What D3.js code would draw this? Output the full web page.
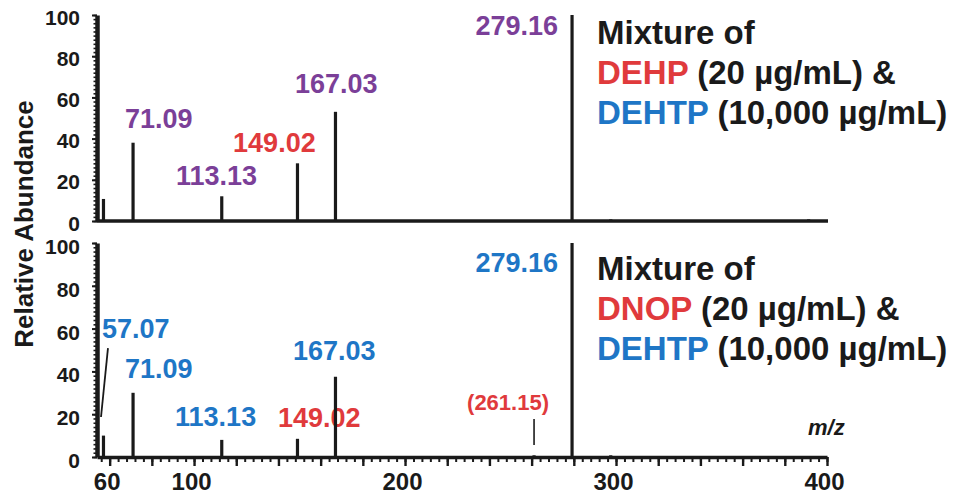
<!DOCTYPE html>
<html>
<head>
<meta charset="utf-8">
<script src="https://cdn.jsdelivr.net/npm/d3@7"></script>
<style>
  body { margin: 0; background: #fff; }
  svg { display: block; font-family: "Liberation Sans", Arial, sans-serif; }
</style>
</head>
<body>
<svg id="chart" width="961" height="501"></svg>
<script>
// Peaks (m/z, relative abundance)
var topMz = [57.07, 71.09, 113.13, 149.02, 167.03, 279.16, 297.5, 391.3];
var topAbund = [10.7, 38, 12, 28, 53, 100, 0.8, 0.8];
var bottomMz = [57.07, 71.09, 113.13, 149.02, 167.03, 261.15, 279.16, 297.5];
var bottomAbund = [10, 30, 8, 8.5, 37.5, 0.8, 100, 0.8];

// Peak labels: text and colour key
var topLabelText = ['279.16', '71.09', '113.13', '149.02', '167.03'];
var topLabelColor = ['purple', 'purple', 'purple', 'red', 'purple'];
var bottomLabelText = ['279.16', '57.07', '71.09', '113.13', '149.02', '167.03'];
var bottomLabelColor = ['blue', 'blue', 'blue', 'blue', 'red', 'blue'];

var xTickValues = [60, 100, 200, 300, 400];
var yTickValues = [0, 20, 40, 60, 80, 100];

var topLegend = [
    [['Mixture of', 'black']],
    [['DEHP', 'red'], [' (20 µg/mL) &', 'black']],
    [['DEHTP', 'blue'], [' (10,000 µg/mL)', 'black']]
];
var bottomLegend = [
    [['Mixture of', 'black']],
    [['DNOP', 'red'], [' (20 µg/mL) &', 'black']],
    [['DEHTP', 'blue'], [' (10,000 µg/mL)', 'black']]
];

var colors = {
    purple: '#7b3f98',
    red: '#e03a3c',
    blue: '#1e76c6',
    black: '#1a1a1a'
};

var svg = d3.select('#chart');

// Scales
var x = d3.scaleLinear().domain([54, 400]).range([97, 827]);
var yTop = d3.scaleLinear().domain([0, 100]).range([221, 15]);
var yBot = d3.scaleLinear().domain([0, 100]).range([457, 243]);

// label anchors (data units) - layout only
var topLabelPos = [[272.5, 90.3, 'end'], [67.3, 45.1], [91.4, 17.5], [118.5, 33.5], [147.8, 62.1]];
var bottomLabelPos = [[272.5, 86.4, 'end'], [56.4, 55.6], [67.3, 36.9], [91.0, 14.5], [139.8, 14.0], [146.9, 45.3]];

function yAxis(g, y, labelDy) {
    // minor ticks
    g.append('g')
        .attr('transform', 'translate(97,0)')
        .call(d3.axisLeft(y).tickValues(d3.range(0, 101, 2)).tickSize(3.5).tickSizeOuter(0).tickFormat(''))
        .call(function(a) {
            a.select('.domain').attr('stroke', colors.black).attr('stroke-width', 4.5);
            a.selectAll('.tick line').attr('stroke', colors.black).attr('stroke-width', 1.6);
        });
    // labelled ticks
    g.append('g')
        .attr('transform', 'translate(97,0)')
        .call(d3.axisLeft(y).tickValues(yTickValues).tickSize(5).tickPadding(12).tickSizeOuter(0))
        .call(function(a) {
            a.select('.domain').remove();
            a.selectAll('.tick line').attr('stroke', colors.black).attr('stroke-width', 2);
            a.selectAll('.tick text')
                .attr('dy', labelDy)
                .attr('fill', colors.black)
                .style('font-size', '21px')
                .style('font-weight', 'bold');
        });
}

function peaks(g, y, mz, ab) {
    g.selectAll('line.peak')
        .data(d3.zip(mz, ab))
        .enter().append('line')
        .attr('class', 'peak')
        .attr('x1', function(d) { return x(d[0]); })
        .attr('x2', function(d) { return x(d[0]); })
        .attr('y1', y(0))
        .attr('y2', function(d) { return y(d[1]); })
        .attr('stroke', colors.black)
        .attr('stroke-width', 3.2);
}

function labels(g, y, texts, cols, pos) {
    g.selectAll('text.lbl')
        .data(texts)
        .enter().append('text')
        .attr('class', 'lbl')
        .attr('x', function(d, i) { return x(pos[i][0]); })
        .attr('y', function(d, i) { return y(pos[i][1]); })
        .attr('text-anchor', function(d, i) { return pos[i][2] || 'start'; })
        .attr('fill', function(d, i) { return colors[cols[i]]; })
        .style('font-size', '27px')
        .style('font-weight', 'bold')
        .text(function(d) { return d; });
}

function legend(g, lines, baseY) {
    lines.forEach(function(line, i) {
        var t = g.append('text')
            .attr('x', 597)
            .attr('y', baseY + i * 40)
            .style('font-size', '33px')
            .style('font-weight', 'bold');
        line.forEach(function(part) {
            t.append('tspan')
                .attr('fill', colors[part[1]])
                .style('white-space', 'pre')
                .text(part[0]);
        });
    });
}

// ---- Top panel
var topPanel = svg.append('g');
labels(topPanel, yTop, topLabelText, topLabelColor, topLabelPos);
topPanel.append('line')
    .attr('x1', 97).attr('x2', x(400) + 1)
    .attr('y1', yTop(0)).attr('y2', yTop(0))
    .attr('stroke', colors.black).attr('stroke-width', 3.5);
peaks(topPanel, yTop, topMz, topAbund);
yAxis(topPanel, yTop, 9);
legend(topPanel, topLegend, 44);

// ---- Bottom panel
var botPanel = svg.append('g');
labels(botPanel, yBot, bottomLabelText, bottomLabelColor, bottomLabelPos);

// (261.15) annotation
botPanel.append('text')
    .attr('x', x(229.4)).attr('y', yBot(22))
    .attr('fill', colors.red)
    .style('font-size', '22px')
    .style('font-weight', 'bold')
    .text('(261.15)');
botPanel.append('line')
    .attr('x1', x(261.15)).attr('x2', x(261.15))
    .attr('y1', yBot(17.8)).attr('y2', yBot(5.6))
    .attr('stroke', colors.black).attr('stroke-width', 1.6);

// leader for 57.07
botPanel.append('line')
    .attr('x1', x(59.2)).attr('y1', yBot(50.9))
    .attr('x2', x(55.9)).attr('y2', yBot(18.7))
    .attr('stroke', colors.black).attr('stroke-width', 1.8);

// x axis with ticks
botPanel.append('g')
    .attr('transform', 'translate(0,' + yBot(0) + ')')
    .call(d3.axisBottom(x).tickValues(d3.range(56, 401, 4)).tickSize(5).tickSizeOuter(0).tickFormat(''))
    .call(function(a) {
        a.select('.domain').attr('stroke', colors.black).attr('stroke-width', 3.5);
        a.selectAll('.tick line').attr('stroke', colors.black).attr('stroke-width', 2);
    });
botPanel.append('g')
    .attr('transform', 'translate(0,' + yBot(0) + ')')
    .call(d3.axisBottom(x).tickValues(d3.range(60, 401, 20)).tickSize(9).tickSizeOuter(0).tickFormat(''))
    .call(function(a) {
        a.select('.domain').remove();
        a.selectAll('.tick line').attr('stroke', colors.black).attr('stroke-width', 2.4);
    });
botPanel.append('g')
    .attr('transform', 'translate(0,' + yBot(0) + ')')
    .call(d3.axisBottom(x).tickValues(xTickValues).tickSize(0).tickPadding(16).tickSizeOuter(0))
    .call(function(a) {
        a.select('.domain').remove();
        a.selectAll('.tick text')
            .attr('dx', -3)
            .attr('dy', '0.71em')
            .attr('fill', colors.black)
            .style('font-size', '24px')
            .style('font-weight', 'bold');
    });

peaks(botPanel, yBot, bottomMz, bottomAbund);
yAxis(botPanel, yBot, 10.5);
legend(botPanel, bottomLegend, 280);

botPanel.append('text')
    .attr('x', x(391)).attr('y', yBot(10.3))
    .attr('fill', colors.black)
    .style('font-size', '22px')
    .style('font-weight', 'bold')
    .style('font-style', 'italic')
    .text('m/z');

// y title
svg.append('text')
    .attr('transform', 'translate(33,224) rotate(-90)')
    .attr('text-anchor', 'middle')
    .attr('fill', colors.black)
    .style('font-size', '26px')
    .style('font-weight', 'bold')
    .text('Relative Abundance');
</script>
</body>
</html>
